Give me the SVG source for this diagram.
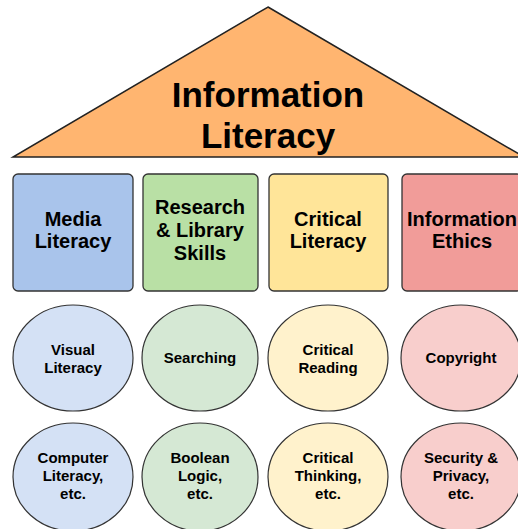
<svg xmlns="http://www.w3.org/2000/svg" width="518" height="529" viewBox="0 0 518 529">
<style>
  text { font-family: "Liberation Sans", Arial, sans-serif; font-weight: bold; fill: #000; text-anchor: middle; }
  .title { font-size: 35px; }
  .box text { font-size: 20px; }
  .box rect { stroke: #333; stroke-width: 1.3; }
  .ell text { font-size: 15px; }
  .ell ellipse { stroke: #333; stroke-width: 1.2; }
</style>
<rect width="518" height="529" fill="#fff"/>
<g id="roof">
  <polygon points="268,7 524,157 13,157" fill="#FFB570" stroke="#222" stroke-width="1.5"/>
  <text class="title" x="268" y="107">Information</text>
  <text class="title" x="268" y="148">Literacy</text>
</g>
<g id="media-literacy" class="box">
  <rect x="13" y="174" width="120" height="117" rx="5" fill="#A9C4EB"/>
  <text x="73" y="226">Media</text>
  <text x="73" y="248">Literacy</text>
</g>
<g id="research-library" class="box">
  <rect x="143" y="174" width="115" height="117" rx="5" fill="#B9E0A5"/>
  <text x="200" y="214">Research</text>
  <text x="200" y="237">&amp; Library</text>
  <text x="200" y="260">Skills</text>
</g>
<g id="critical-literacy" class="box">
  <rect x="269" y="174" width="119" height="117" rx="5" fill="#FFE599"/>
  <text x="328" y="226">Critical</text>
  <text x="328" y="248">Literacy</text>
</g>
<g id="information-ethics" class="box">
  <rect x="402" y="174" width="120" height="117" rx="5" fill="#F19C99"/>
  <text x="462" y="226">Information</text>
  <text x="462" y="248">Ethics</text>
</g>
<g id="visual-literacy" class="ell">
  <ellipse cx="73" cy="358" rx="60" ry="53" fill="#D4E1F5"/>
  <text x="73" y="355">Visual</text>
  <text x="73" y="373">Literacy</text>
</g>
<g id="searching" class="ell">
  <ellipse cx="200" cy="358" rx="58" ry="53" fill="#D5E8D4"/>
  <text x="200" y="363">Searching</text>
</g>
<g id="critical-reading" class="ell">
  <ellipse cx="328" cy="358" rx="60" ry="53" fill="#FFF2CC"/>
  <text x="328" y="355">Critical</text>
  <text x="328" y="373">Reading</text>
</g>
<g id="copyright" class="ell">
  <ellipse cx="461" cy="358" rx="60" ry="53" fill="#F8CECC"/>
  <text x="461" y="363">Copyright</text>
</g>
<g id="computer-literacy" class="ell">
  <ellipse cx="73" cy="477" rx="60" ry="54" fill="#D4E1F5"/>
  <text x="73" y="463">Computer</text>
  <text x="73" y="481">Literacy,</text>
  <text x="73" y="499">etc.</text>
</g>
<g id="boolean-logic" class="ell">
  <ellipse cx="200" cy="477" rx="58" ry="54" fill="#D5E8D4"/>
  <text x="200" y="463">Boolean</text>
  <text x="200" y="481">Logic,</text>
  <text x="200" y="499">etc.</text>
</g>
<g id="critical-thinking" class="ell">
  <ellipse cx="328" cy="477" rx="60" ry="54" fill="#FFF2CC"/>
  <text x="328" y="463">Critical</text>
  <text x="328" y="481">Thinking,</text>
  <text x="328" y="499">etc.</text>
</g>
<g id="security-privacy" class="ell">
  <ellipse cx="461" cy="477" rx="60" ry="54" fill="#F8CECC"/>
  <text x="461" y="463">Security &amp;</text>
  <text x="461" y="481">Privacy,</text>
  <text x="461" y="499">etc.</text>
</g>
<g id="connectors"/>
</svg>
